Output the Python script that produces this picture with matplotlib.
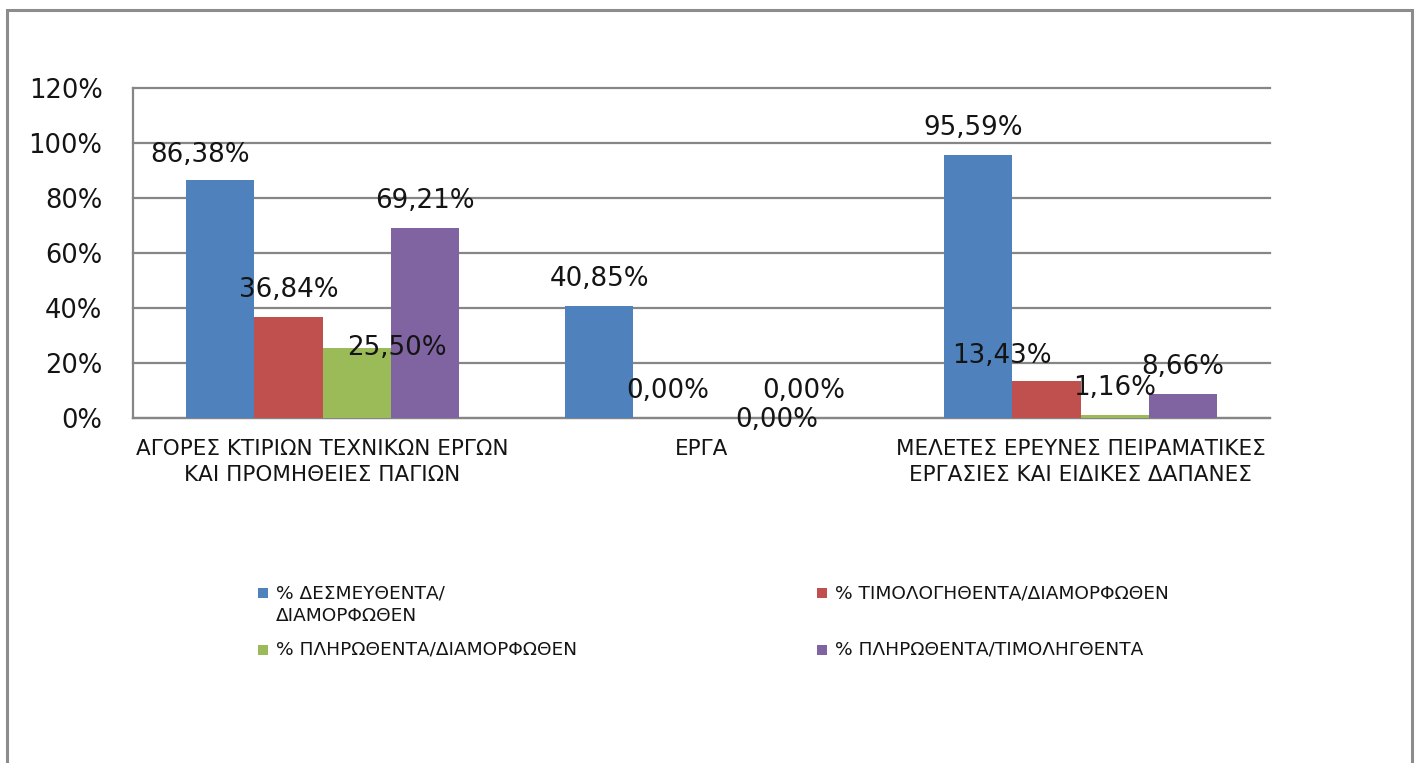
import matplotlib
matplotlib.use("Agg")
import matplotlib.pyplot as plt
import matplotlib.patches as mpatches
import numpy as np

plt.rcParams['font.family'] = ['DejaVu Sans']

categories = ["ΑΓΟΡΕΣ ΚΤΙΡΙΩΝ ΤΕΧΝΙΚΩΝ ΕΡΓΩΝ\nΚΑΙ ΠΡΟΜΗΘΕΙΕΣ ΠΑΓΙΩΝ",
              "ΕΡΓΑ",
              "ΜΕΛΕΤΕΣ ΕΡΕΥΝΕΣ ΠΕΙΡΑΜΑΤΙΚΕΣ\nΕΡΓΑΣΙΕΣ ΚΑΙ ΕΙΔΙΚΕΣ ΔΑΠΑΝΕΣ"]
series_names = ["% ΔΕΣΜΕΥΘΕΝΤΑ/\nΔΙΑΜΟΡΦΩΘΕΝ",
                "% ΤΙΜΟΛΟΓΗΘΕΝΤΑ/ΔΙΑΜΟΡΦΩΘΕΝ",
                "% ΠΛΗΡΩΘΕΝΤΑ/ΔΙΑΜΟΡΦΩΘΕΝ",
                "% ΠΛΗΡΩΘΕΝΤΑ/ΤΙΜΟΛΗΓΘΕΝΤΑ"]
desmeuthenta = [86.38, 40.85, 95.59]
timologithenta = [36.84, 0.00, 13.43]
plirothenta_diam = [25.50, 0.00, 1.16]
plirothenta_tim = [69.21, 0.00, 8.66]
yticks = [0, 20, 40, 60, 80, 100, 120]
ytick_labels = ["0%", "20%", "40%", "60%", "80%", "100%", "120%"]

colors = ["#4F81BD", "#C0504D", "#9BBB59", "#8064A2"]
# label nudges (pixels) to mimic the reference label placement
nudges = [
    [(-20, -2), (0, 0), (-5, 0)],
    [(0, 0), (0, 0), (-44, -2)],
    [(40, -27), (41, -29), (0, 0)],
    [(0, 0), (0, 0), (0, 0)],
]

W, H = 1416, 763
fig = plt.figure(figsize=(W / 100, H / 100), dpi=100)
ax = fig.add_axes([133 / W, 1 - 418 / H, (1270 - 133) / W, (418 - 88) / H])

series = [desmeuthenta, timologithenta, plirothenta_diam, plirothenta_tim]
x = np.arange(len(categories))
bw = 0.18
grid_c = "#868686"
text_c = "#141414"

for i, (vals, col) in enumerate(zip(series, colors)):
    pos = x + (i - 1.5) * bw
    ax.bar(pos, vals, width=bw, color=col, zorder=3, linewidth=0)
    for j, (p, v) in enumerate(zip(pos, vals)):
        dx, dy = nudges[i][j]
        ax.annotate(f"{v:.2f}%".replace(".", ","), xy=(p, v),
                    xytext=(dx, 20 + dy), textcoords="offset pixels",
                    ha="center", va="baseline", fontsize=18.8, color=text_c,
                    zorder=5, annotation_clip=False)

ax.set_xlim(-0.5, 2.5)
ax.set_ylim(0, 120)
ax.set_yticks(yticks)
ax.set_yticklabels(ytick_labels)
ax.set_xticks(x)
ax.set_xticklabels(categories, linespacing=1.4)
ax.tick_params(axis="y", length=0, pad=22, labelsize=18.5, labelcolor=text_c)
ax.tick_params(axis="x", length=0, pad=15, labelsize=15.5, labelcolor=text_c)
ax.yaxis.grid(True, color=grid_c, linewidth=1.6, zorder=0)
for gl in ax.get_ygridlines():
    gl.set_clip_on(False)
ax.set_axisbelow(True)
for s in ["top", "right"]:
    ax.spines[s].set_visible(False)
for s in ["left", "bottom"]:
    ax.spines[s].set_color(grid_c)
    ax.spines[s].set_linewidth(1.6)

# legend (manual, to match layout)
def px(xp, yp):
    return xp / W, 1 - yp / H

leg = [(258, 593, 0), (817, 593, 1), (258, 650, 2), (817, 650, 3)]
for xp, yp, k in leg:
    rx, ry = px(xp, yp + 5)
    fig.patches.append(mpatches.Rectangle((rx, ry), 10 / W, 10 / H,
                                          transform=fig.transFigure,
                                          facecolor=colors[k], edgecolor="none"))
    tx, ty = px(xp + 18, yp - 9)
    fig.text(tx, ty, series_names[k], ha="left", va="top", fontsize=13.3,
             color=text_c, linespacing=1.35)

# outer frame
fx0, fy0 = px(6.5, 800)
fx1, fy1 = px(1411.5, 10)
fig.patches.append(mpatches.Rectangle((fx0, fy0), fx1 - fx0, fy1 - fy0,
                                      transform=fig.transFigure, fill=False,
                                      edgecolor="#8c8c8c", linewidth=2.2,
                                      clip_on=False))

fig.savefig("out.png", dpi=100)
